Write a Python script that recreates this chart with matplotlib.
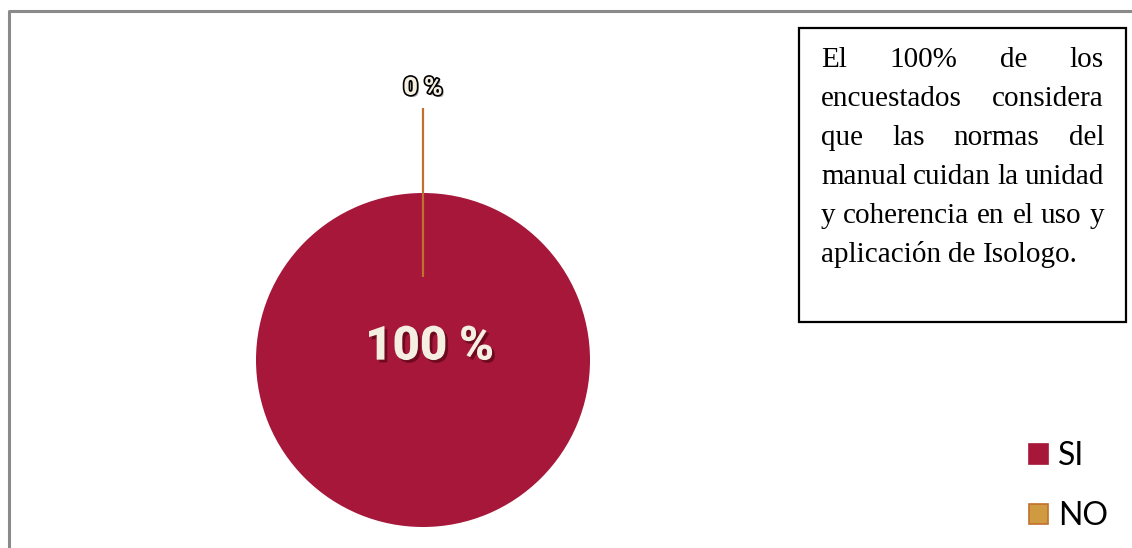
import matplotlib
matplotlib.use("Agg")
import matplotlib.pyplot as plt
import matplotlib.patheffects as pe
from matplotlib.patches import Patch, Rectangle
from matplotlib.lines import Line2D
import numpy as np

# ---- data ----
categories = ["SI", "NO"]
values = [100, 0]
pct_labels = ["100 %", "0 %"]
colors = ["#A6173A", "#CF9A40"]
edge_colors = ["#A6173A", "#C2702F"]
note_lines = [
    "El 100% de los",
    "encuestados considera",
    "que las normas del",
    "manual cuidan la unidad",
    "y coherencia en el uso y",
    "aplicación de Isologo.",
]

W, H = 1132, 548
DPI = 100
fig = plt.figure(figsize=(W / DPI, H / DPI), dpi=DPI)
fig.patch.set_facecolor("white")

def fx(px):
    return px / W

def fy(py):
    return 1 - py / H

# outer gray frame (partially visible)
fig.add_artist(Line2D([fx(9), fx(9), fx(1135)], [fy(550), fy(11), fy(11)],
                      transform=fig.transFigure, color="#8A8A8A", lw=2.2))

# ---- pie ----
R_PX = 167.0
cx, cy = 423.0, 360.0
half = 300.0
ax = fig.add_axes([fx(cx - half), fy(cy + half), (2 * half) / W, (2 * half) / H])
lim = half / R_PX
ax.axis("off")

wedges, _ = ax.pie(values, colors=colors, startangle=90, counterclock=False,
                   radius=1.0, wedgeprops=dict(linewidth=0))
ax.set_xlim(-lim, lim)
ax.set_ylim(-lim, lim)
ax.set_aspect("equal")

LABEL_FONT = ["Roboto", "DejaVu Sans"]

# 100 % label
ax.text(0.04, 0.08, pct_labels[0], ha="center", va="center",
        fontsize=34, fontweight="black", color="#F4EFE1",
        family=LABEL_FONT,
        path_effects=[pe.SimplePatchShadow(offset=(2, -2), shadow_rgbFace="#4A0010", alpha=0.6),
                      pe.Normal()])

# 0 % label with leader line, positioned along the NO wedge angle
w = wedges[1]
ang = np.deg2rad((w.theta1 + w.theta2) / 2)
r_in, r_out, r_lab = 0.5, 1.51, 1.63
ax.plot([r_in * np.cos(ang), r_out * np.cos(ang)],
        [r_in * np.sin(ang), r_out * np.sin(ang)],
        color="#C0712F", lw=1.6, clip_on=False, solid_capstyle="butt")
ax.text(r_lab * np.cos(ang), r_lab * np.sin(ang), pct_labels[1],
        ha="center", va="center", fontsize=18, fontweight="black",
        color="#F4EFE1", family=LABEL_FONT,
        path_effects=[pe.SimplePatchShadow(offset=(1.5, -1.5), shadow_rgbFace="#777777", alpha=0.6),
                      pe.Stroke(linewidth=2.4, foreground="black"), pe.Normal()])

# ---- note box ----
fig.add_artist(Rectangle((fx(799), fy(322)), fx(1126) - fx(799), fy(28) - fy(322),
                         transform=fig.transFigure, fill=False, edgecolor="black", lw=1.6))

renderer = fig.canvas.get_renderer()
left_px, right_px = 821.0, 1104.0
base0, step = 67.0, 39.0
fs_note = 21
NOTE_FONT = "Liberation Serif"
for i, line in enumerate(note_lines):
    words = line.split(" ")
    by = base0 + i * step
    tmp = [fig.text(0, 0, wd, fontsize=fs_note, family=NOTE_FONT) for wd in words]
    widths = [t.get_window_extent(renderer).width for t in tmp]
    for t in tmp:
        t.remove()
    last = (i == len(note_lines) - 1)
    if last or len(words) == 1:
        sp = fig.text(0, 0, "a a", fontsize=fs_note, family=NOTE_FONT)
        sa = fig.text(0, 0, "aa", fontsize=fs_note, family=NOTE_FONT)
        gap = sp.get_window_extent(renderer).width - sa.get_window_extent(renderer).width
        sp.remove(); sa.remove()
    else:
        gap = (right_px - left_px - sum(widths)) / (len(words) - 1)
    x = left_px
    for wd, wid in zip(words, widths):
        fig.text(fx(x), fy(by), wd, fontsize=fs_note, family=NOTE_FONT,
                 ha="left", va="baseline", color="black")
        x += wid + gap

# ---- legend ----
handles = [Patch(facecolor=c, edgecolor=e, linewidth=1.2) for c, e in zip(colors, edge_colors)]
fig.legend(handles, categories, loc="center left",
           bbox_to_anchor=(fx(1029), fy(486)), bbox_transform=fig.transFigure,
           frameon=False, prop=dict(family="Lato", size=23),
           handlelength=0.6, handleheight=0.6, handletextpad=0.3,
           labelspacing=0.94, borderpad=0, borderaxespad=0)

fig.savefig("out.png", dpi=DPI)
